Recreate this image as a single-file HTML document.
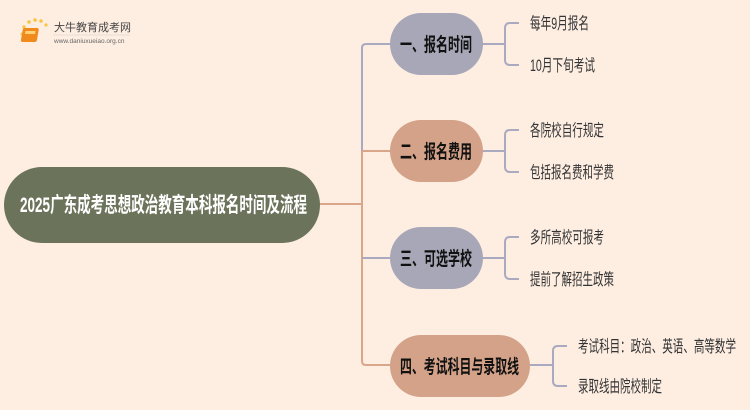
<!DOCTYPE html>
<html><head><meta charset="utf-8"><style>html,body{margin:0;padding:0;background:#feeee2}svg{display:block}</style></head>
<body>
<svg width="750" height="410" viewBox="0 0 750 410" xmlns="http://www.w3.org/2000/svg" font-family="'Liberation Sans','Noto Sans CJK SC',sans-serif">
<rect width="750" height="410" fill="#feeee2"/>
<g>
<circle cx="22" cy="34" r="1.5" fill="#f7c542"/><circle cx="24" cy="27" r="1.7" fill="#f7c542"/><circle cx="29" cy="22" r="1.8" fill="#f7c542"/><circle cx="35" cy="20" r="1.8" fill="#f7c542"/><circle cx="41" cy="21" r="1.8" fill="#f7c542"/><circle cx="46" cy="25" r="1.6" fill="#f7c542"/>
<rect x="28" y="28" width="16" height="14" rx="2" fill="#f08a1c" transform="skewX(-10)"/>
<rect x="31" y="31" width="10" height="3" fill="#ffd27a" transform="skewX(-10)"/>
<text x="54" y="31" font-size="11" fill="#444">大牛教育成考网</text>
<line x1="53" y1="35" x2="130" y2="35" stroke="#ccc" stroke-width="0.6"/>
<text x="54" y="43" font-size="6.5" fill="#666">www.daniuxueiao.org.cn</text>
</g>
<g fill="none" stroke-width="2">
<path d="M320 204 H362" stroke="#d9a68a"/>
<path d="M362 151 V48 Q362 44 366 44 H392" stroke="#a9a9c0"/>
<path d="M362 151 V361 Q362 365 366 365 H392" stroke="#d9a68a"/>
<path d="M362 151 H392" stroke="#d9a68a"/>
<path d="M362 258 H392" stroke="#a9a9c0"/>
<g stroke="#a9a9c0">
<path d="M482 44 H505 M519 23 H510 Q505 23 505 28 V60 Q505 65 510 65 H519"/>
<path d="M482 151 H505 M519 130 H510 Q505 130 505 135 V167 Q505 172 510 172 H519"/>
<path d="M482 258 H505 M519 237 H510 Q505 237 505 242 V274 Q505 279 510 279 H519"/>
<path d="M530 365 H553 M567 346 H558 Q553 346 553 351 V381 Q553 386 558 386 H567"/>
</g>
</g>
<rect x="4" y="167" width="316" height="76" rx="38" fill="#6b735a"/>
<text x="20" y="212" font-size="21" font-weight="bold" fill="#fff" textLength="287" lengthAdjust="spacingAndGlyphs">2025广东成考思想政治教育本科报名时间及流程</text>
<rect x="390" y="13" width="93" height="62" rx="31" fill="#a8a7b7"/>
<rect x="390" y="120" width="93" height="62" rx="31" fill="#d4a288"/>
<rect x="390" y="227" width="93" height="62" rx="31" fill="#a8a7b7"/>
<rect x="390" y="335" width="140" height="62" rx="31" fill="#d4a288"/>
<g font-size="19" font-weight="bold" fill="#111">
<text x="400" y="51" textLength="72" lengthAdjust="spacingAndGlyphs">一、报名时间</text>
<text x="400" y="158" textLength="72" lengthAdjust="spacingAndGlyphs">二、报名费用</text>
<text x="400" y="265" textLength="72" lengthAdjust="spacingAndGlyphs">三、可选学校</text>
<text x="400" y="373" textLength="119" lengthAdjust="spacingAndGlyphs">四、考试科目与录取线</text>
</g>
<g font-size="16.5" fill="#333">
<text x="530" y="29" textLength="59" lengthAdjust="spacingAndGlyphs">每年9月报名</text>
<text x="530" y="71" textLength="65" lengthAdjust="spacingAndGlyphs">10月下旬考试</text>
<text x="530" y="136" textLength="74" lengthAdjust="spacingAndGlyphs">各院校自行规定</text>
<text x="530" y="178" textLength="84" lengthAdjust="spacingAndGlyphs">包括报名费和学费</text>
<text x="530" y="243" textLength="74" lengthAdjust="spacingAndGlyphs">多所高校可报考</text>
<text x="530" y="285" textLength="84" lengthAdjust="spacingAndGlyphs">提前了解招生政策</text>
<text x="578" y="352" textLength="158" lengthAdjust="spacingAndGlyphs">考试科目：政治、英语、高等数学</text>
<text x="578" y="392" textLength="84" lengthAdjust="spacingAndGlyphs">录取线由院校制定</text>
</g>
</svg>
</body></html>
